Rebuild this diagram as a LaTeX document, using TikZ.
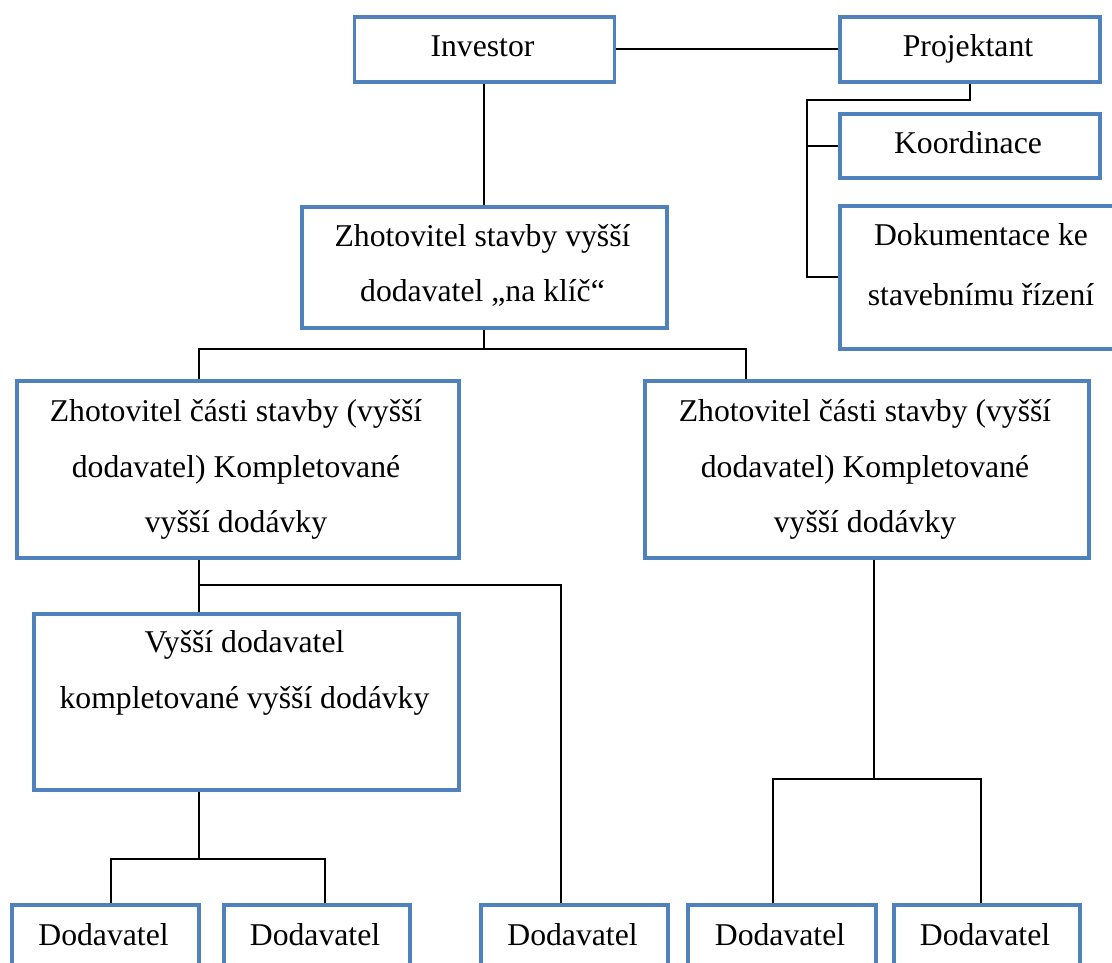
\documentclass[tikz,border=0pt]{standalone}
\usepackage{fontspec}
\setmainfont{Liberation Serif}
\definecolor{boxblue}{HTML}{4F81BD}
\tikzset{
  box/.style={draw=boxblue, line width=3.6pt, fill=white, rectangle, inner sep=0pt, anchor=north west},
  conn/.style={draw=black, line width=2pt},
  txt/.style={font=\fontsize{31.7}{38}\selectfont, inner sep=0pt, anchor=base, text=black},
}
\begin{document}
\begin{tikzpicture}[x=1pt, y=-1pt]
\useasboundingbox (0,0) rectangle (1112,963);
\clip (0,0) rectangle (1112,963);

% ---- boxes ----
\node[box, minimum width=260, minimum height=65] (inv) at (352.5,15) {};
\node[box, minimum width=260, minimum height=65] (proj) at (838,15) {};
\node[box, minimum width=260, minimum height=64] (koord) at (838,112) {};
\node[box, minimum width=286, minimum height=143] (dok) at (838,204) {};
\node[box, minimum width=365, minimum height=121] (zs) at (300,205) {};
\node[box, minimum width=442, minimum height=177] (zcL) at (15,379) {};
\node[box, minimum width=444, minimum height=177] (zcR) at (643,379) {};
\node[box, minimum width=425, minimum height=176] (vd) at (32,612) {};
\node[box, minimum width=187, minimum height=100] (d1) at (10,903) {};
\node[box, minimum width=186, minimum height=100] (d2) at (222,903) {};
\node[box, minimum width=187, minimum height=100] (d3) at (479,903) {};
\node[box, minimum width=188, minimum height=100] (d4) at (686,903) {};
\node[box, minimum width=186, minimum height=100] (d5) at (892,903) {};

% ---- texts ----
\node[txt] (inv-t) at (482.5,57) {Investor};
\node[txt] (proj-t) at (968,57) {Projektant};
\node[txt] (koord-t) at (968,154) {Koordinace};
\node[txt] (dok-t1) at (981,245) {Dokumentace ke};
\node[txt] (dok-t2) at (981,305) {stavebnímu řízení};
\node[txt] (zs-t1) at (482.5,246) {Zhotovitel stavby vyšší};
\node[txt] (zs-t2) at (482.5,301) {dodavatel „na klíč“};
\node[txt] (zcL-t1) at (236,421) {Zhotovitel části stavby (vyšší};
\node[txt] (zcL-t2) at (236,477) {dodavatel) Kompletované};
\node[txt] (zcL-t3) at (236,532) {vyšší dodávky};
\node[txt] (zcR-t1) at (865,421) {Zhotovitel části stavby (vyšší};
\node[txt] (zcR-t2) at (865,477) {dodavatel) Kompletované};
\node[txt] (zcR-t3) at (865,532) {vyšší dodávky};
\node[txt] (vd-t1) at (244.5,652) {Vyšší dodavatel};
\node[txt] (vd-t2) at (244.5,708) {kompletované vyšší dodávky};
\node[txt] (d1-t) at (103.5,945) {Dodavatel};
\node[txt] (d2-t) at (315,945) {Dodavatel};
\node[txt] (d3-t) at (572.5,945) {Dodavatel};
\node[txt] (d4-t) at (780,945) {Dodavatel};
\node[txt] (d5-t) at (985,945) {Dodavatel};

% ---- junction points ----
\coordinate (pj) at ([xshift=-163, yshift=-16]proj.south);
\coordinate (hub1) at ([yshift=-19]zs.south);
\coordinate (hub2) at ([xshift=-39, yshift=-25]zcL.south);
\coordinate (hub3) at ([xshift=-47.5, yshift=-67]vd.south);
\coordinate (hub4) at ([xshift=7, yshift=-219]zcR.south);

% ---- connectors ----
\draw[conn] (inv.east) -- (proj.west);
\draw[conn] (inv.south) -- (zs.north);
\draw[conn] (proj.south) |- (pj) |- (dok.west);
\draw[conn] (pj |- koord.west) -- (koord.west);
\draw[conn] (zs.south) -- (hub1);
\draw[conn] ([xshift=-39]zcL.north) |- (hub1) -| ([xshift=-121]zcR.north);
\draw[conn] ([xshift=-39]zcL.south) -- ([xshift=-47.5]vd.north);
\draw[conn] (hub2) -| ([xshift=-13.5]d3.north);
\draw[conn] ([xshift=-47.5]vd.south) -- (hub3);
\draw[conn] ([xshift=5.5]d1.north) |- (hub3) -| ([xshift=8]d2.north);
\draw[conn] ([xshift=7]zcR.south) -- (hub4);
\draw[conn] ([xshift=-9]d4.north) |- (hub4) -| ([xshift=-6]d5.north);
\end{tikzpicture}
\end{document}
